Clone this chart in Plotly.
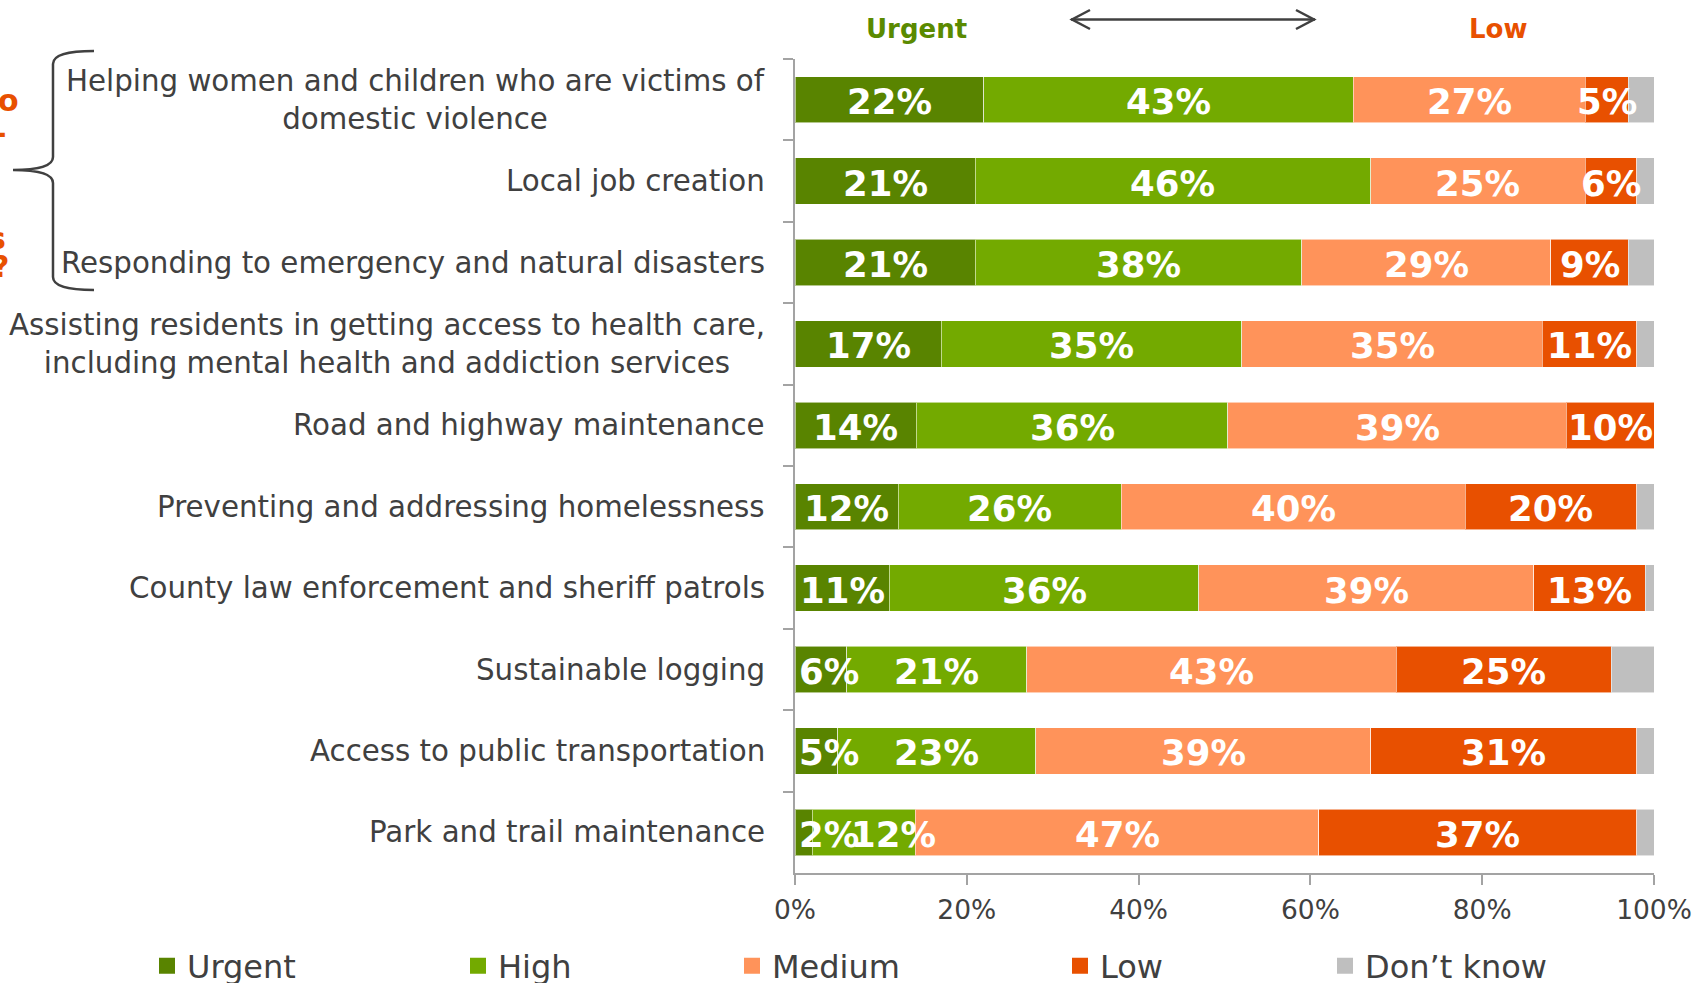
import plotly.graph_objects as go

# survey results, % of respondents (rows top to bottom)
categories = [
    "Helping women and children who are victims of<br>domestic violence",
    "Local job creation",
    "Responding to emergency and natural disasters",
    "Assisting residents in getting access to health care,<br>including mental health and addiction services",
    "Road and highway maintenance",
    "Preventing and addressing homelessness",
    "County law enforcement and sheriff patrols",
    "Sustainable logging",
    "Access to public transportation",
    "Park and trail maintenance",
]
urgent = [22, 21, 21, 17, 14.1, 12, 11, 6, 5, 2]
high = [43, 46, 38, 35, 36.3, 26, 36, 21, 23, 12]
medium = [27, 25, 29, 35, 39.4, 40, 39, 43, 39, 47]
low = [5, 6, 9, 11, 10.2, 20, 13, 25, 31, 37]
dont_know = [3, 2, 3, 2, 0, 2, 1, 5, 2, 2]

series_names = ["Urgent", "High", "Medium", "Low", "Don\u2019t know"]
colors = ["#598400", "#73AA00", "#FF935A", "#E85000", "#BFBFBF"]
x_ticks = [0, 20, 40, 60, 80, 100]
x_tick_labels = ["0%", "20%", "40%", "60%", "80%", "100%"]

FONT = "DejaVu Sans, Verdana, sans-serif"
TXT = "#404040"
AXIS = "#A3A3A3"

W, H = 1697, 983
PL, PR, PT, PB = 795, 1654, 59, 873


def px_x(x):
    return (x - PL) / (PR - PL)


def px_y(y):
    return (PB - y) / (PB - PT)


def path(points):
    # points is a list of (cmd, x, y, ...) in pixels -> paper coords
    out = []
    for p in points:
        cmd, coords = p[0], p[1:]
        xy = []
        for i in range(0, len(coords), 2):
            xy.append(f"{px_x(coords[i]):.5f},{px_y(coords[i + 1]):.5f}")
        out.append(cmd + " " + " ".join(xy))
    return " ".join(out)


series = [urgent, high, medium, low, dont_know]
fig = go.Figure()
for i, (name, vals, col) in enumerate(zip(series_names, series, colors)):
    fig.add_trace(
        go.Bar(
            y=categories,
            x=vals,
            name=name,
            orientation="h",
            marker=dict(color=col, line=dict(color="rgba(255,255,255,0.55)", width=1)),
            showlegend=False,
            hovertemplate="%{y}<br>" + name + ": %{x:.0f}%<extra></extra>",
        )
    )
    # legend entry with a bigger square than the bar swatch
    fig.add_trace(
        go.Scatter(
            x=[None], y=[None], mode="markers", name=name,
            marker=dict(symbol="square", size=16, color=col),
            legend="legend" if i == 0 else f"legend{i + 1}",
        )
    )

annotations = []

# percent labels in the segments (no label for don't know)
for r, cat in enumerate(categories):
    start = 0
    prev = None
    for s in range(4):
        v = series[s][r]
        mid = start + v / 2
        lower = 4.0 if prev is None else prev + 7.5
        cx = max(mid, lower)
        prev = cx
        annotations.append(
            dict(
                x=cx, y=cat, xref="x", yref="y", xanchor="center", yanchor="middle",
                yshift=-2, text=f"<b>{round(v)}%</b>", showarrow=False,
                font=dict(family=FONT, size=35.5, color="white"),
            )
        )
        start += v

# category labels, centred lines, right aligned block
for cat in categories:
    annotations.append(
        dict(
            x=px_x(767), y=cat, xref="paper", yref="y",
            xanchor="right", yanchor="middle", align="center", text=cat, showarrow=False,
            font=dict(family=FONT, size=29.3, color=TXT),
        )
    )

# header over the bars
annotations.append(dict(x=px_x(916), y=px_y(29), xref="paper", yref="paper",
                        xanchor="center", yanchor="middle",
                        text="<b>Urgent</b>", showarrow=False,
                        font=dict(family=FONT, size=26, color="#5A8A00")))
annotations.append(dict(x=px_x(1498), y=px_y(29), xref="paper", yref="paper",
                        xanchor="center", yanchor="middle",
                        text="<b>Low</b>", showarrow=False,
                        font=dict(family=FONT, size=26, color="#E85000")))

# cut-off callout text at the left edge
for txt, xr, yc in [("o", 21, 100), ("-", 8, 133), ("s", 8, 238), ("?", 11, 266)]:
    annotations.append(dict(x=px_x(xr), y=px_y(yc), xref="paper", yref="paper",
                            xanchor="right", yanchor="middle",
                            text=f"<b>{txt}</b>", showarrow=False,
                            font=dict(family=FONT, size=30, color="#E85000")))

shapes = [
    # double arrow
    dict(type="path", xref="paper", yref="paper",
         path=path([("M", 1071, 19.5), ("L", 1315, 19.5)]),
         line=dict(color="#404040", width=2.5)),
    dict(type="path", xref="paper", yref="paper",
         path=path([("M", 1090, 10), ("L", 1072, 19.5), ("L", 1090, 29)]),
         line=dict(color="#404040", width=2.5)),
    dict(type="path", xref="paper", yref="paper",
         path=path([("M", 1296, 10), ("L", 1314, 19.5), ("L", 1296, 29)]),
         line=dict(color="#404040", width=2.5)),
    # curly brace
    dict(type="path", xref="paper", yref="paper",
         path=path([("M", 94, 51), ("Q", 53, 51, 53, 64), ("L", 53, 157),
                    ("Q", 53, 170, 13, 170), ("Q", 53, 170, 53, 183),
                    ("L", 53, 277), ("Q", 53, 290, 94, 290)]),
         line=dict(color="#404040", width=2.5)),
]

legend_left = [147, 458, 732, 1060, 1325]
legends = {}
for i, lx in enumerate(legend_left):
    key = "legend" if i == 0 else f"legend{i + 1}"
    legends[key] = dict(
        x=px_x(lx), y=px_y(966), xref="paper", yref="paper",
        xanchor="left", yanchor="middle", orientation="h",
        bgcolor="rgba(0,0,0,0)", font=dict(family=FONT, size=32, color=TXT),
    )

fig.update_layout(
    width=W, height=H,
    barmode="stack", bargap=0.43,
    margin=dict(l=PL, r=W - PR, t=PT, b=H - PB, autoexpand=False),
    paper_bgcolor="white", plot_bgcolor="white",
    font=dict(family=FONT, color=TXT),
    annotations=annotations, shapes=shapes,
    showlegend=True,
    **legends,
)
fig.update_xaxes(
    range=[0, 100], tickvals=x_ticks, ticktext=x_tick_labels,
    showgrid=False, zeroline=False,
    showline=True, linecolor=AXIS, linewidth=2,
    ticks="outside", ticklen=10, tickcolor=AXIS, tickwidth=2,
    tickfont=dict(family=FONT, size=26.5, color=TXT),
    ticklabelstandoff=2,
)
fig.update_yaxes(
    type="category", categoryorder="array", categoryarray=categories,
    range=[len(categories) - 0.5, -0.5],
    showticklabels=False, showgrid=False, zeroline=False,
    showline=True, linecolor=AXIS, linewidth=2,
    ticks="outside", tickson="boundaries", ticklen=10, tickcolor=AXIS, tickwidth=2,
)

# page has no body margin so the figure sits at the window corner
fig.write_html(
    "out.html",
    config={"displayModeBar": False},
    post_script="document.body.style.margin='0';",
)
